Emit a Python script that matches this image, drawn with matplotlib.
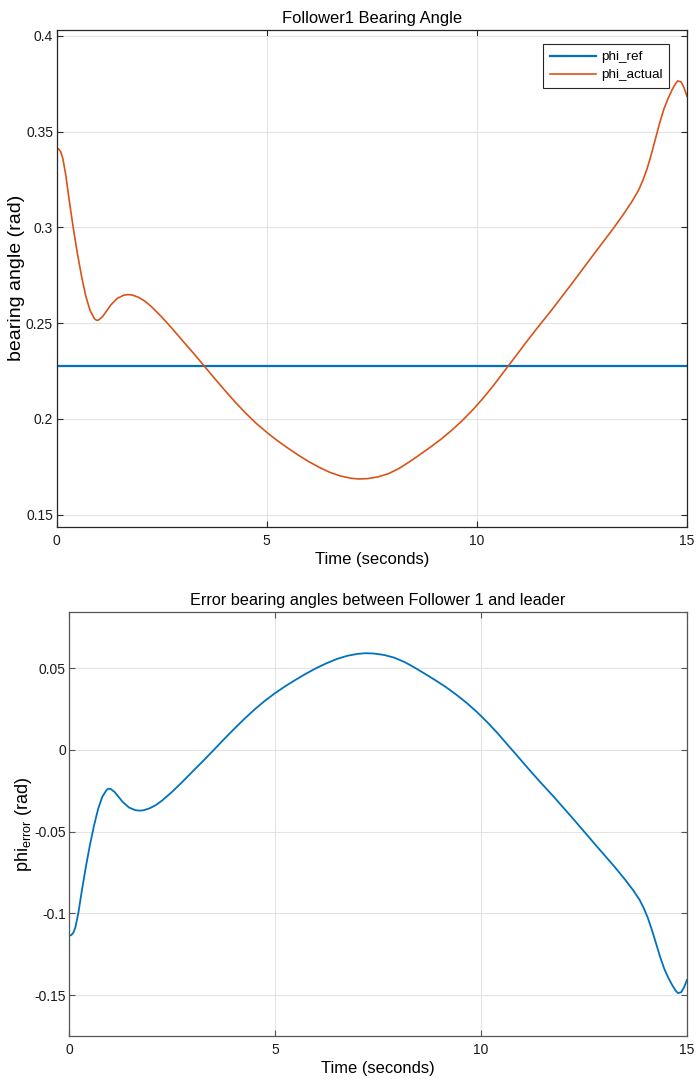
import matplotlib
matplotlib.use("Agg")
import matplotlib.pyplot as plt
from matplotlib.ticker import FuncFormatter

plt.rcParams["font.family"] = ["Liberation Sans", "DejaVu Sans"]
plt.rcParams["mathtext.fontset"] = "custom"
plt.rcParams["mathtext.rm"] = "Liberation Sans"
plt.rcParams["mathtext.it"] = "Liberation Sans"

# simulation time (s) and follower bearing angle (rad)
time_s = [0.0, 0.05, 0.1, 0.15, 0.22, 0.3, 0.4, 0.5, 0.6, 0.7, 0.8, 0.9, 0.95,
          1.0, 1.1, 1.2, 1.3, 1.45, 1.6, 1.7, 1.8, 1.95, 2.1, 2.25, 2.5, 2.75,
          3.0, 3.25, 3.5, 3.75, 4.0, 4.25, 4.5, 4.75, 5.0, 5.25, 5.5, 5.75,
          6.0, 6.25, 6.5, 6.75, 7.0, 7.2, 7.4, 7.65, 7.9, 8.15, 8.4, 8.65,
          8.9, 9.15, 9.4, 9.65, 9.9, 10.15, 10.4, 10.65, 10.9, 11.15, 11.4,
          11.75, 12.25, 12.75, 13.25, 13.5, 13.7, 13.85, 13.95, 14.05, 14.15,
          14.25, 14.35, 14.45, 14.55, 14.65, 14.72, 14.78, 14.86, 14.93, 15.0]
phi_actual = [0.3414, 0.3410, 0.3395, 0.3360, 0.3274, 0.3145, 0.2995, 0.2860,
              0.2740, 0.2638, 0.2565, 0.2524, 0.2515, 0.2516, 0.2535, 0.2566,
              0.2597, 0.2630, 0.2646, 0.2649, 0.2647, 0.2635, 0.2615, 0.2588,
              0.2533, 0.2472, 0.2408, 0.2345, 0.2280, 0.2214, 0.2150, 0.2088,
              0.2030, 0.1977, 0.1930, 0.1887, 0.1848, 0.1811, 0.1777, 0.1747,
              0.1721, 0.1702, 0.1690, 0.1686, 0.1688, 0.1697, 0.1714, 0.1741,
              0.1776, 0.1814, 0.1853, 0.1894, 0.1940, 0.1990, 0.2046, 0.2108,
              0.2175, 0.2248, 0.2320, 0.2393, 0.2464, 0.2560, 0.2703, 0.2850,
              0.2995, 0.3072, 0.3138, 0.3195, 0.3245, 0.3305, 0.3380, 0.3462,
              0.3545, 0.3617, 0.3673, 0.3720, 0.3748, 0.3765, 0.3760, 0.3730,
              0.3685]
phi_ref = 0.2278

phi_ref_line = [phi_ref] * len(time_s)
phi_error = [phi_ref - p for p in phi_actual]

x_ticks = [0, 5, 10, 15]
top_y_ticks = [0.15, 0.2, 0.25, 0.3, 0.35, 0.4]
bottom_y_ticks = [-0.15, -0.1, -0.05, 0, 0.05]

BLUE = "#0072BD"
ORANGE = "#D95319"
GRID = "#e3e3e3"


def matlab_style(ax, spine_color):
    for side in ax.spines.values():
        side.set_color(spine_color)
        side.set_linewidth(0.9)
    ax.grid(True, color=GRID, linewidth=0.8)
    ax.set_axisbelow(True)
    ax.tick_params(direction="in", length=4, width=0.8, top=True, right=True,
                   colors=spine_color, labelcolor="#1a1a1a", labelsize=10)
    ax.tick_params(axis="y", pad=2.5)
    ax.tick_params(axis="x", pad=5)
    ax.yaxis.set_major_formatter(FuncFormatter(lambda v, _: f"{v:g}"))


fig = plt.figure(figsize=(6.96, 10.79), dpi=100)

ax1 = fig.add_axes([0.0812, 0.5119, 0.9058, 0.4603])
ax1.plot(time_s, phi_ref_line, color=BLUE, linewidth=1.6, label="phi_ref")
ax1.plot(time_s, phi_actual, color=ORANGE, linewidth=1.2, label="phi_actual")
ax1.set_xlim(0, 15)
ax1.set_ylim(0.1437, 0.4031)
ax1.set_xticks(x_ticks)
ax1.set_yticks(top_y_ticks)
matlab_style(ax1, "#262626")
ax1.set_title("Follower1 Bearing Angle", fontsize=11.9, pad=5)
ax1.set_xlabel("Time (seconds)", fontsize=12, labelpad=3)
ax1.set_ylabel("bearing angle (rad)", fontsize=14, labelpad=1)
leg = ax1.legend(loc="upper right", bbox_to_anchor=(0.9715, 0.9712),
                 borderaxespad=0, fontsize=9.7, fancybox=False, framealpha=1,
                 edgecolor="#262626", handlelength=3.4, borderpad=0.5,
                 labelspacing=0.4, handletextpad=0.35)
leg.get_frame().set_linewidth(0.8)

ax2 = fig.add_axes([0.0996, 0.0398, 0.8874, 0.3930])
ax2.plot(time_s, phi_error, color=BLUE, linewidth=1.3)
ax2.set_xlim(0, 15)
ax2.set_ylim(-0.175, 0.0844)
ax2.set_xticks(x_ticks)
ax2.set_yticks(bottom_y_ticks)
matlab_style(ax2, "#555555")
ax2.set_title("Error bearing angles between Follower 1 and leader", fontsize=11.7, pad=5)
ax2.set_xlabel("Time (seconds)", fontsize=11.9, labelpad=3)
ax2.set_ylabel("phi$_{\\mathrm{error}}$ (rad)", fontsize=13, labelpad=0)

fig.savefig("out.png", dpi=100)
